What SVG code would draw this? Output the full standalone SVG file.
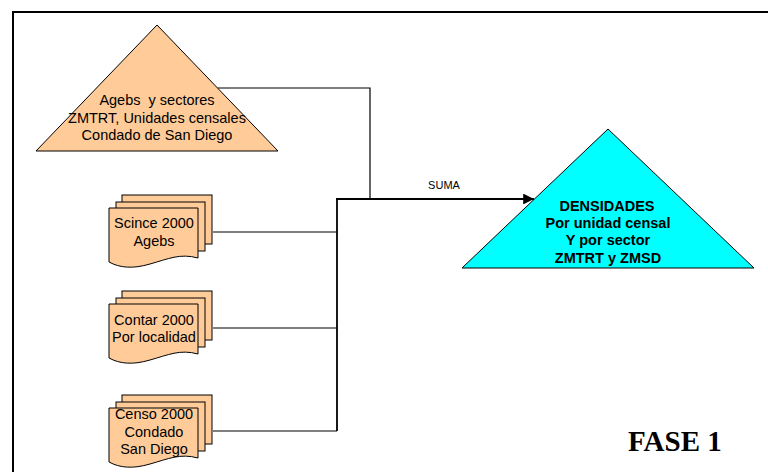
<svg xmlns="http://www.w3.org/2000/svg" xmlns:xlink="http://www.w3.org/1999/xlink" width="768" height="472" viewBox="0 0 768 472">
<style>
.bg{fill:#ffffff}
.frame{fill:none;stroke:#000;stroke-width:2}
.peach{fill:#FFCC99;stroke:#000;stroke-width:1}
.cyan{fill:#00FFFF;stroke:#000;stroke-width:1}
.t{font-family:"Liberation Sans",Arial,sans-serif;font-size:14.5px;fill:#000;text-anchor:middle}
.tb{font-family:"Liberation Sans",Arial,sans-serif;font-size:14.5px;font-weight:bold;fill:#000;text-anchor:middle}
.lbl{font-family:"Liberation Sans",Arial,sans-serif;font-size:11px;fill:#000;text-anchor:middle}
.fase{font-family:"Liberation Serif","Times New Roman",serif;font-size:29px;font-weight:bold;fill:#000}
.ln{fill:none;stroke:#000;stroke-width:1.2}
.ln2{fill:none;stroke:#000;stroke-width:1.8}
</style>
<defs>
<marker id="arr" viewBox="0 0 10 10" refX="10" refY="5" markerWidth="6" markerHeight="6" markerUnits="strokeWidth" orient="auto">
<path d="M0,0 L10,5 L0,10 Z" fill="#000"/>
</marker>
<g id="multidoc">
<rect class="peach" x="122" y="195" width="90" height="49"/>
<rect class="peach" x="116" y="202" width="89" height="49"/>
<path class="peach" d="M109,208 H198 V258 C180,253 168,259 150,264 C133,269 120,268 109,262 Z"/>
</g>
</defs>
<rect class="bg" x="0" y="0" width="768" height="472"/>
<rect class="frame" x="13" y="12" width="780" height="480"/>

<g id="connectors">
<polyline class="ln" points="217.5,88 370,88 370,199"/>
<polyline class="ln" points="213,232 337,232"/>
<polyline class="ln" points="213,328 337,328"/>
<polyline class="ln" points="213,431 337,431"/>
<polyline class="ln2" points="337,431 337,199"/>
<line class="ln2" x1="336" y1="199" x2="534" y2="199" marker-end="url(#arr)"/>
<text class="lbl" x="444" y="189">SUMA</text>
</g>

<g id="agebs">
<polygon class="peach" points="157,25 278,151 36,151"/>
<text class="t" x="157" y="105">Agebs&#160; y sectores</text>
<text class="t" x="157" y="123">ZMTRT, Unidades censales</text>
<text class="t" x="157" y="140">Condado de San Diego</text>
</g>

<g id="scince">
<use xlink:href="#multidoc"/>
<text class="t" x="154" y="228">Scince 2000</text>
<text class="t" x="154" y="246">Agebs</text>
</g>

<g id="contar">
<use xlink:href="#multidoc" transform="translate(0,96)"/>
<text class="t" x="154" y="325">Contar 2000</text>
<text class="t" x="154" y="342">Por localidad</text>
</g>

<g id="censo">
<use xlink:href="#multidoc" transform="translate(0,200)"/>
<text class="t" x="154" y="419">Censo 2000</text>
<text class="t" x="154" y="437">Condado</text>
<text class="t" x="154" y="454">San Diego</text>
</g>

<g id="densidades">
<polygon class="cyan" points="608,129 754,268 462,268"/>
<text class="tb" x="607" y="211">DENSIDADES</text>
<text class="tb" x="608" y="228">Por unidad censal</text>
<text class="tb" x="608" y="245">Y por sector</text>
<text class="tb" x="608" y="263">ZMTRT y ZMSD</text>
</g>

<g id="fase">
<text class="fase" x="628" y="451">FASE 1</text>
</g>
</svg>
